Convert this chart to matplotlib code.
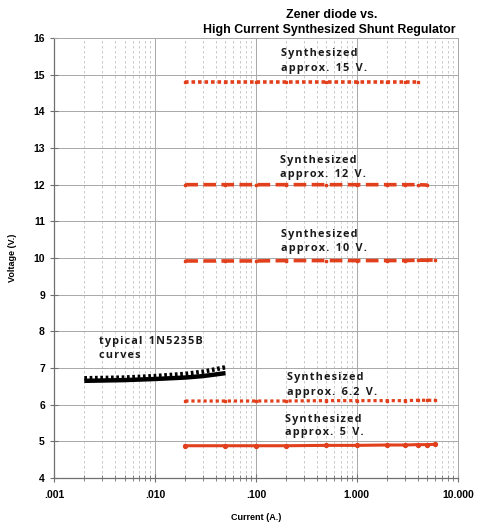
import matplotlib
matplotlib.use("Agg")
import matplotlib.pyplot as plt
from matplotlib.ticker import LogLocator, NullFormatter

# ---- data ----
syn_x = [0.02, 0.05, 0.1, 0.2, 0.5, 1, 2, 3, 4, 5, 6]
v15_x = syn_x[:9]
v15_y = [14.80, 14.80, 14.80, 14.80, 14.80, 14.80, 14.80, 14.80, 14.80]
v12_x = syn_x[:10]
v12_y = [12.00, 12.00, 12.00, 12.00, 12.00, 12.00, 12.00, 12.00, 12.00, 11.99]
v10_x = syn_x
v10_y = [9.92, 9.92, 9.92, 9.93, 9.93, 9.93, 9.93, 9.93, 9.94, 9.94, 9.95]
v62_x = syn_x
v62_y = [6.10, 6.10, 6.10, 6.10, 6.11, 6.11, 6.11, 6.11, 6.12, 6.12, 6.12]
v5_x = syn_x
v5_y = [4.88, 4.88, 4.88, 4.88, 4.89, 4.89, 4.90, 4.90, 4.91, 4.91, 4.92]

zener_x = [0.002, 0.005, 0.01, 0.02, 0.03, 0.05]
zener_lo = [6.65, 6.67, 6.70, 6.74, 6.78, 6.86]
zener_hi = [6.72, 6.74, 6.78, 6.84, 6.90, 7.02]

x_ticks = [0.001, 0.01, 0.1, 1, 10]
x_labels = ['.001', '.010', '.100', '1.000', '10.000']
y_ticks = list(range(4, 17))

labels = [
    (0.177, 15.59, 15.18, "approx. 15 V."),
    (0.172, 12.67, 12.27, "approx. 12 V."),
    (0.177, 10.63, 10.25, "approx. 10 V."),
    (0.202, 6.74, 6.33, "approx. 6.2 V."),
    (0.193, 5.59, 5.24, "approx. 5 V."),
]

RED = '#e2401c'

def spaced(s):
    out = '\u200a'.join(s)
    return out.replace('\u200a \u200a', '\u2009\u2009\u2009')

fig = plt.figure(figsize=(4.86, 5.28), dpi=100)
ax = fig.add_axes([0.111, 0.0947, 0.831, 0.8333])
ax.set_xscale('log')
ax.set_xlim(0.001, 10)
ax.set_ylim(4, 16)

# grid
ax.set_yticks(y_ticks)
ax.set_xticks(x_ticks)
ax.set_xticklabels(x_labels)
ax.xaxis.set_minor_locator(LogLocator(base=10, subs=range(2, 10)))
ax.xaxis.set_minor_formatter(NullFormatter())
ax.grid(True, which='major', axis='both', color='#a8a8a8', lw=0.7)
ax.grid(True, which='minor', axis='x', color='#c2c2c2', lw=0.6, ls=(0, (3, 3)))
ax.set_axisbelow(True)

for s in ['top', 'right']:
    ax.spines[s].set_color('#a8a8a8')
    ax.spines[s].set_linewidth(0.7)
for s in ['left', 'bottom']:
    ax.spines[s].set_color('#707070')
    ax.spines[s].set_linewidth(0.9)

ax.tick_params(axis='both', which='major', direction='inout', length=6, width=0.8,
               color='#707070', labelsize=7.5)
ax.tick_params(axis='x', which='minor', direction='inout', length=4, width=0.6, color='#707070')
for lab in ax.get_xticklabels() + ax.get_yticklabels():
    lab.set_fontweight('bold')
    lab.set_family('Liberation Sans')
ax.tick_params(axis='x', pad=6)

# series
ax.plot(v15_x, v15_y, color=RED, lw=2.6, ls=(0, (1, 0.8)), marker='s', ms=1.8)
ax.plot(v12_x, v12_y, color=RED, lw=2.6, ls=(0, (3.5, 1.5)), marker='s', ms=1.6)
ax.plot(v10_x, v10_y, color=RED, lw=2.6, ls=(0, (3.5, 1.5)), marker='s', ms=1.6)
ax.plot(v62_x, v62_y, color=RED, lw=2.3, ls=(0, (1, 0.9)), marker='s', ms=1.6)
ax.plot(v5_x, v5_y, color=RED, lw=2.2, ls='-', marker='o', ms=2.8)

ax.plot(zener_x, zener_lo, color='black', lw=3.2, solid_capstyle='butt')
ax.plot(zener_x, zener_hi, color='black', lw=3.2, ls=(0, (0.6, 0.6)))

# annotations
tf = dict(family=['Open Sans', 'DejaVu Sans'], fontweight='bold', fontsize=7.8,
          color='#1a1a1a', ha='left', va='center')
for x, y1, y2, t in labels:
    ax.text(x, y1, spaced("Synthesized"), **tf)
    ax.text(x, y2, spaced(t), **tf)
ax.text(0.0028, 7.72, spaced("typical 1N5235B"), **tf)
ax.text(0.0028, 7.33, spaced("curves"), **tf)

# titles
fig.text(0.683, 1 - 15 / 528, "Zener diode vs.", ha='center', va='center',
         fontsize=8.9, fontweight='bold', family='Liberation Sans')
fig.text(0.677, 1 - 30 / 528, "High Current Synthesized Shunt Regulator", ha='center',
         va='center', fontsize=8.9, fontweight='bold', family='Liberation Sans')
ax.set_xlabel("Current (A.)", fontsize=6.5, fontweight='bold', family='Liberation Sans',
              labelpad=9)
ax.set_ylabel("Voltage (V.)", fontsize=6.5, fontweight='bold', family='Liberation Sans',
              labelpad=12)

fig.savefig('out.png', dpi=100)
